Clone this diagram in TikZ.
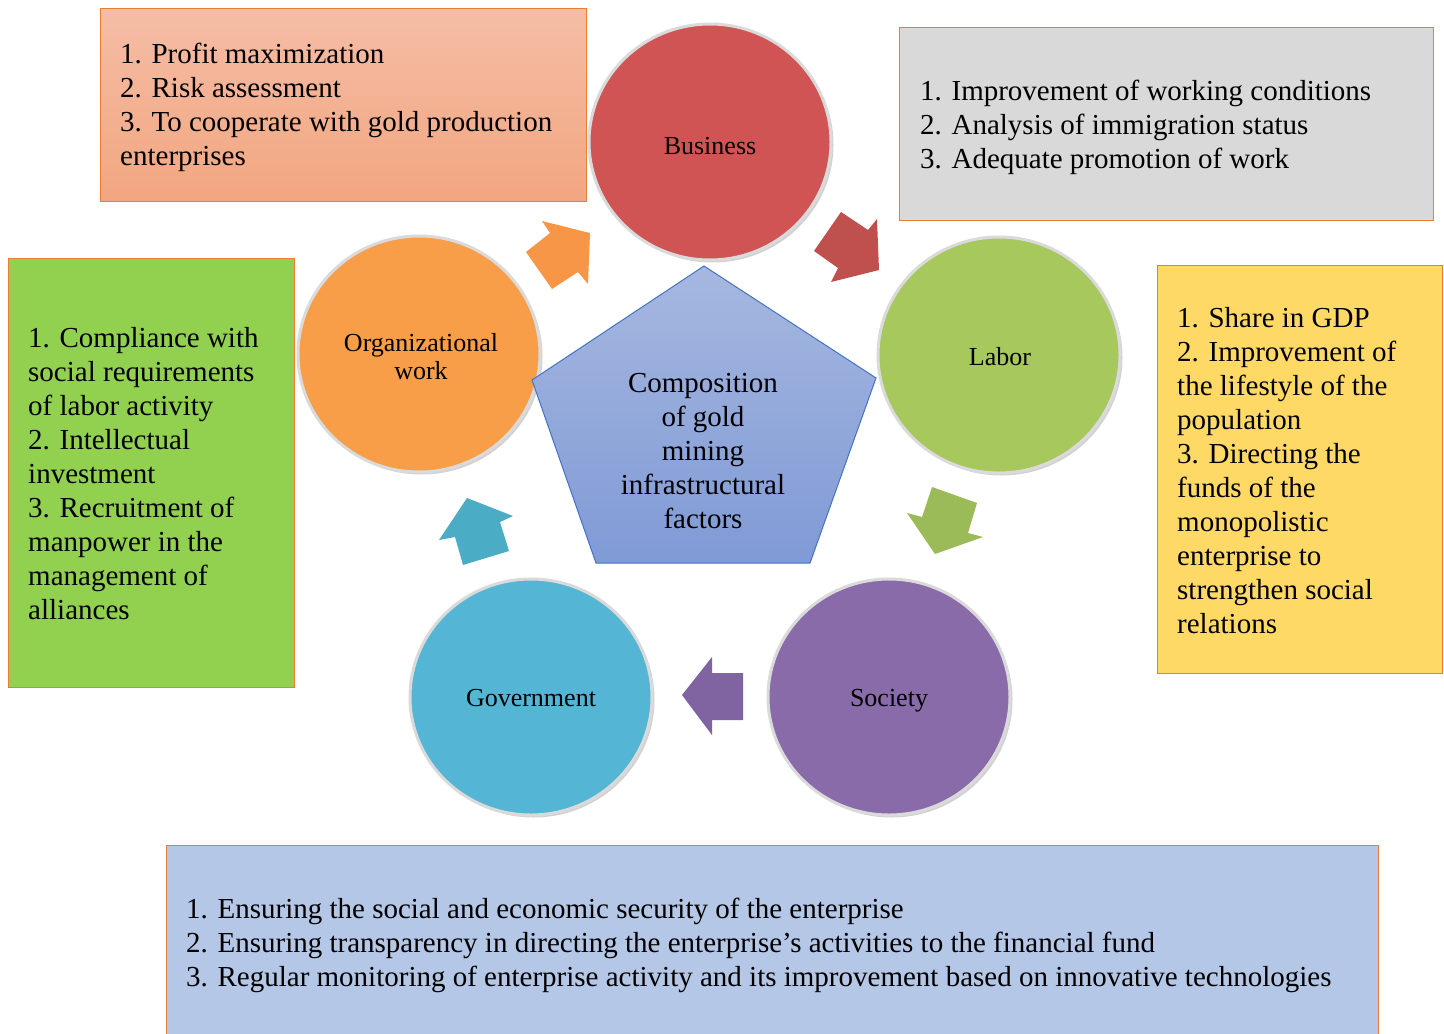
\documentclass[tikz,border=0pt]{standalone}
\usepackage{fontspec}
\setmainfont{Liberation Serif}
\usetikzlibrary{shapes.geometric,shadows}
\definecolor{boxborder}{RGB}{237,125,49}
\definecolor{salmonTop}{RGB}{245,189,166}
\definecolor{salmonBot}{RGB}{242,166,128}
\definecolor{greyBox}{RGB}{217,217,217}
\definecolor{greenBox}{RGB}{146,208,80}
\definecolor{yellowBox}{RGB}{255,217,102}
\definecolor{blueBox}{RGB}{180,199,231}
\definecolor{cBus}{RGB}{208,84,84}
\definecolor{cLab}{RGB}{166,200,92}
\definecolor{cSoc}{RGB}{138,107,170}
\definecolor{cGov}{RGB}{84,182,212}
\definecolor{cOrg}{RGB}{248,158,72}
\definecolor{aOrg}{RGB}{247,150,70}
\definecolor{aBus}{RGB}{192,80,77}
\definecolor{aLab}{RGB}{155,187,89}
\definecolor{aSoc}{RGB}{128,100,162}
\definecolor{aGov}{RGB}{75,172,198}
\definecolor{pentTop}{RGB}{166,184,224}
\definecolor{pentBot}{RGB}{128,154,214}
\definecolor{pentLine}{RGB}{68,114,196}
\definecolor{rim}{RGB}{218,218,218}
\begin{document}
\begin{tikzpicture}[x=1pt,y=-1pt,
  infobox/.style={draw=boxborder, line width=1.3pt, anchor=north west, inner sep=0pt},
  infotext/.style={anchor=west, align=left, inner sep=0pt, font=\fontsize{29}{34}\selectfont},
  factor/.style={ellipse, draw=rim, line width=3pt, inner sep=0pt,
    minimum width=242pt, minimum height=236pt,
    drop shadow={shadow xshift=2.5pt, shadow yshift=-2.5pt, opacity=0.35}},
  factorlabel/.style={align=center, inner sep=0pt, font=\fontsize{26}{28}\selectfont}]
\useasboundingbox (0,0) rectangle (1444,1034);
\fill[white] (0,0) rectangle (1444,1034);
\clip (0,0) rectangle (1444,1034);

% information boxes
\node[infobox, top color=salmonTop, bottom color=salmonBot, minimum width=486pt, minimum height=193pt] (bizbox) at (100,8) {};
\node[infotext] (biztext) at ([xshift=20pt,yshift=-2pt]bizbox.west)
  {1. Profit maximization\\2. Risk assessment\\3. To cooperate with gold production\\enterprises};

\node[infobox, fill=greyBox, minimum width=534pt, minimum height=193pt] (labbox) at (899,27) {};
\node[infotext] (labtext) at ([xshift=21pt,yshift=-3pt]labbox.west)
  {1. Improvement of working conditions\\2. Analysis of immigration status\\3. Adequate promotion of work};

\node[infobox, fill=greenBox, minimum width=286pt, minimum height=429pt] (orgbox) at (8,258) {};
\node[infotext] (orgtext) at ([xshift=20pt]orgbox.west)
  {1. Compliance with\\social requirements\\of labor activity\\2. Intellectual\\investment\\3. Recruitment of\\manpower in the\\management of\\alliances};

\node[infobox, fill=yellowBox, minimum width=285pt, minimum height=408pt] (socbox) at (1157,265) {};
\node[infotext] (soctext) at ([xshift=20pt,yshift=-1pt]socbox.west)
  {1. Share in GDP\\2. Improvement of\\the lifestyle of the\\population\\3. Directing the\\funds of the\\monopolistic\\enterprise to\\strengthen social\\relations};

\node[infobox, fill=blueBox, minimum width=1212pt, minimum height=196pt] (govbox) at (166,845) {};
\node[infotext] (govtext) at ([xshift=20pt,yshift=-2pt]govbox.west)
  {1. Ensuring the social and economic security of the enterprise\\2. Ensuring transparency in directing the enterprise's activities to the financial fund\\3. Regular monitoring of enterprise activity and its improvement based on innovative technologies};

% factor circles
\node[factor, fill=cBus] (business) at (710,142) {};
\node[factor, fill=cLab] (labor) at (999,355) {};
\node[factor, fill=cSoc] (society) at (889,697) {};
\node[factor, fill=cGov] (government) at (531,697) {};
\node[factor, fill=cOrg] (organizational) at (419,354) {};
\node[factorlabel] (businesslabel) at (710,146) {Business};
\node[factorlabel] (laborlabel) at (1000,357) {Labor};
\node[factorlabel] (societylabel) at (889,701) {Society};
\node[factorlabel] (governmentlabel) at (531,698) {Government};
\node[factorlabel] (organizationallabel) at (421,357) {Organizational\\work};

% block arrows
\fill[aOrg] (590,233) -- (542,221) -- (550,233) -- (526,252) -- (552,289) -- (578,272) -- (588,284) -- cycle;
\fill[aBus] (841,212) -- (868,230) -- (877,219) -- (879,270) -- (831,282) -- (838,268) -- (814,251) -- cycle;
\fill[aLab] (932,487) -- (977,503) -- (968,533) -- (983,537) -- (935,554) -- (907,513) -- (922,517) -- cycle;
\fill[aSoc] (682,695) -- (712,657) -- (712,673) -- (743,673) -- (743,720) -- (712,720) -- (712,735) -- cycle;
\fill[aGov] (467,498) -- (513,516) -- (500,522) -- (509,551) -- (463,565) -- (455,537) -- (439,540) -- cycle;

% central pentagon
\path[draw=pentLine, line width=1pt, top color=pentTop, bottom color=pentBot]
  (704,266) -- (876,378) -- (810,563) -- (596,563) -- (532,380) -- cycle;
\node[align=center, inner sep=0pt, font=\fontsize{29}{34}\selectfont] (composition) at (703,451)
  {Composition\\of gold\\mining\\infrastructural\\factors};
\end{tikzpicture}
\end{document}
